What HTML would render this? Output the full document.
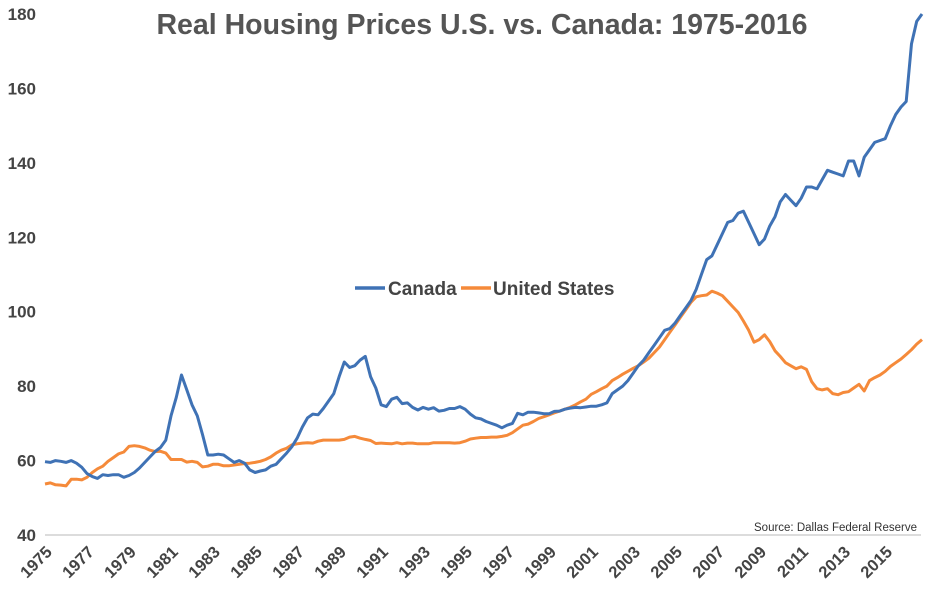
<!DOCTYPE html>
<html><head><meta charset="utf-8"><style>
body{margin:0;background:#fff;}
svg{display:block;font-family:"Liberation Sans",Arial,sans-serif;}
</style></head><body>
<svg id="chart" width="932" height="593" viewBox="0 0 932 593">
<text x="482" y="34" text-anchor="middle" font-size="28.5" font-weight="bold" fill="#555">Real Housing Prices U.S. vs. Canada: 1975-2016</text>
<line x1="45" y1="535" x2="921" y2="535" stroke="#d0d0d0" stroke-width="1.5"/>
<g id="yticks"></g>
<g id="xticks"></g>
<g id="series"></g>
<g>
<g>
<line x1="355" y1="288" x2="385" y2="288" stroke="#3F72B5" stroke-width="3.5"/>
<text x="388" y="295" font-size="19" font-weight="bold" fill="#444">Canada</text></g>
<g>
<line x1="461" y1="288" x2="491" y2="288" stroke="#F58A3A" stroke-width="3.5"/>
<text x="493" y="295" font-size="19" font-weight="bold" fill="#444">United States</text></g>
</g>
<text x="917" y="531" text-anchor="end" font-size="11.5" fill="#333">Source: Dallas Federal Reserve</text>
</svg>
<script>
const yTicks=[40,60,80,100,120,140,160,180];
const xLabels=["1975","1977","1979","1981","1983","1985","1987","1989","1991","1993","1995","1997","1999","2001","2003","2005","2007","2009","2011","2013","2015"];
const canada=[
59.7,59.5,60,59.8, 59.5,60,59.3,58.2, 56.5,55.7,55.2,56.2, 56,56.2,56.2,55.5,
56,56.8,58,59.5, 61,62.5,63.5,65.5, 72,77,83,79, 75,72,67,61.5,
61.5,61.7,61.5,60.5, 59.5,60,59.3,57.5, 56.8,57.2,57.5,58.5, 59,60.5,62,63.7,
66,69,71.5,72.5, 72.3,74,76,78, 82.5,86.5,85,85.5, 87,88,82.5,79.5,
75,74.5,76.5,77, 75.3,75.5,74.3,73.6, 74.3,73.8,74.2,73.3, 73.5,74,74,74.5,
73.8,72.5,71.5,71.2, 70.5,70,69.5,68.8, 69.5,70,72.7,72.3, 73,73,72.8,72.6,
72.6,73.2,73.3,73.8, 74.1,74.3,74.2,74.4, 74.6,74.6,75,75.5, 78,79,80,81.5,
83.5,85.5,87,89, 91,93,95,95.5, 97,99,101,103, 106,110,114,115,
118,121,124,124.5, 126.5,127,124,121, 118,119.5,123,125.5, 129.5,131.5,130,128.5,
130.5,133.5,133.5,133, 135.5,138,137.5,137, 136.5,140.5,140.5,136.5, 141.5,143.5,145.5,146,
146.5,150,153,155, 156.5,172,178,180];
const unitedStates=[
53.7,54,53.5,53.4, 53.2,55,55,54.8, 55.5,56.8,57.8,58.5, 59.8,60.8,61.8,62.3,
63.8,64,63.8,63.4, 62.8,62.4,62.5,62, 60.3,60.3,60.3,59.6, 59.8,59.5,58.3,58.5,
59,59,58.6,58.6, 58.8,59,59.2,59.3, 59.5,59.8,60.3,61, 62,62.8,63.3,64.2,
64.5,64.7,64.8,64.7, 65.2,65.5,65.5,65.5, 65.5,65.7,66.3,66.5, 66,65.7,65.4,64.6,
64.7,64.6,64.5,64.8, 64.5,64.7,64.7,64.5, 64.5,64.5,64.8,64.8, 64.8,64.8,64.7,64.8,
65.2,65.8,66,66.2, 66.2,66.3,66.3,66.5, 66.8,67.5,68.5,69.5, 69.8,70.5,71.3,71.8,
72.3,72.8,73.3,73.8, 74.3,75,75.8,76.5, 77.8,78.5,79.3,80, 81.5,82.3,83.2,84,
84.8,85.5,86.5,87.5, 89,90.5,92.5,94.5, 96.5,98.5,100.5,102.5, 104,104.3,104.5,105.5,
105,104.3,102.8,101.3, 99.8,97.5,95,91.8, 92.5,93.8,92,89.5, 88,86.3,85.5,84.7,
85.2,84.5,81.2,79.3, 79,79.3,78,77.7, 78.3,78.5,79.5,80.5, 78.7,81.5,82.3,83,
84,85.3,86.3,87.3, 88.5,89.8,91.3,92.5];
const NS="http://www.w3.org/2000/svg";
const x0=45,x1=922,yBase=535,yTop=14,vMin=40,vMax=180;
const n=canada.length;
function xs(i){return x0+i*(x1-x0)/(n-1);}
function ys(v){return yBase-(v-vMin)*(yBase-yTop)/(vMax-vMin);}
const yg=document.getElementById('yticks');
yTicks.forEach(v=>{
 const t=document.createElementNS(NS,'text');
 
 
 t.setAttribute('x',36);t.setAttribute('y',ys(v)+6);
 t.setAttribute('text-anchor','end');t.setAttribute('font-size','17');
 t.setAttribute('font-weight','bold');t.setAttribute('fill','#444');
 t.textContent=v;yg.appendChild(t);
});
const xg=document.getElementById('xticks');
xLabels.forEach(l=>{
 const i=(parseInt(l)-1975)*4;
 const x=xs(i)+8,y=553;
 const t=document.createElementNS(NS,'text');
 
 
 t.setAttribute('x',x);t.setAttribute('y',y);
 t.setAttribute('text-anchor','end');t.setAttribute('font-size','16.5');
 t.setAttribute('font-weight','bold');t.setAttribute('fill','#444');
 t.setAttribute('transform','rotate(-45 '+x+' '+y+')');
 t.textContent=l;xg.appendChild(t);
});
const sg=document.getElementById('series');
function line(data,color,name){
 const p=document.createElementNS(NS,'polyline');
 
 
 p.setAttribute('points',data.map((v,i)=>xs(i).toFixed(1)+','+ys(v).toFixed(1)).join(' '));
 p.setAttribute('fill','none');p.setAttribute('stroke',color);
 p.setAttribute('stroke-width','3');p.setAttribute('stroke-linejoin','round');
 sg.appendChild(p);
}
line(unitedStates,'#F58A3A','united-states-line');
line(canada,'#3F72B5','canada-line');
</script>
</body></html>
